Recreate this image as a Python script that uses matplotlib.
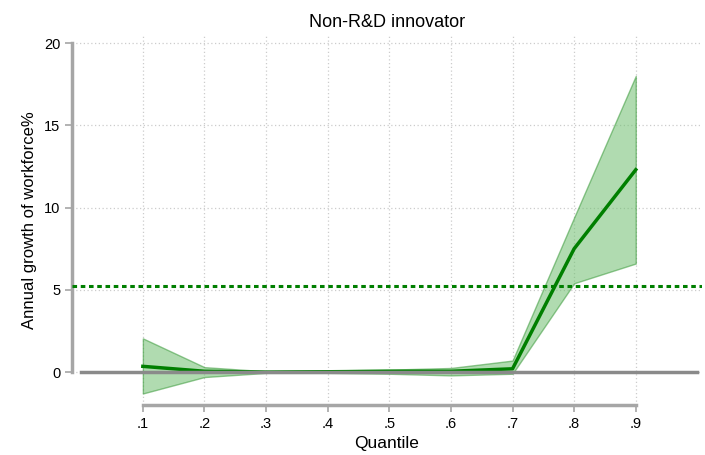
import matplotlib.pyplot as plt
import numpy as np

plt.rcParams['font.family'] = ['Liberation Sans', 'DejaVu Sans']

quantile = [0.1, 0.2, 0.3, 0.4, 0.5, 0.6, 0.7, 0.8, 0.9]
estimate = [0.35, 0.05, 0.0, 0.02, 0.05, 0.05, 0.2, 7.5, 12.3]
upper = [2.05, 0.3, 0.05, 0.1, 0.15, 0.25, 0.7, 9.4, 18.0]
lower = [-1.3, -0.3, -0.05, -0.05, -0.1, -0.2, -0.1, 5.4, 6.6]
ols_line = 5.25
xtick_labels = [".1", ".2", ".3", ".4", ".5", ".6", ".7", ".8", ".9"]
yticks = [0, 5, 10, 15, 20]

W, H = 705, 455
fig = plt.figure(figsize=(W / 100, H / 100), dpi=100)
ax = fig.add_axes([72 / W, (H - 405) / H, (702 - 72) / W, (405 - 35) / H])

green = "#007f00"

# dotted grid at the ticks
for x in quantile:
    ax.axvline(x, color="#cccccc", lw=0.9, ls=(0, (1, 2)), zorder=0)
for y in yticks:
    ax.axhline(y, color="#cccccc", lw=0.9, ls=(0, (1, 2)), zorder=0)

ax.fill_between(quantile, lower, upper, facecolor="#6fbf6f", alpha=0.55,
                edgecolor="#3a9a3a", lw=1, zorder=2)
ax.plot(quantile, estimate, color=green, lw=2.5, zorder=3)
ax.plot([0, 1], [0, 0], color="#8a8a8a", lw=2.5, zorder=4)
ax.axhline(ols_line, color=green, lw=2.2, ls=(0, (1.5, 1.2)), zorder=4)

ax.set_xlim(-0.015, 1.0075)
ax.set_ylim(-2.0, 20.49)
ax.set_xticks(quantile)
ax.set_xticklabels(xtick_labels)
ax.set_yticks(yticks)

for s in ["top", "right"]:
    ax.spines[s].set_visible(False)
for s in ["left", "bottom"]:
    ax.spines[s].set_color("#a6a6a6")
    ax.spines[s].set_linewidth(2.5)
ax.spines["left"].set_bounds(0, 20)
ax.spines["bottom"].set_bounds(0.1, 0.9)
ax.tick_params(colors="#a6a6a6", labelcolor="black", labelsize=10.5, length=5, width=1.2)

ax.set_xlabel("Quantile", fontsize=12.5, labelpad=4)
ax.set_ylabel("Annual growth of workforce%", fontsize=12, labelpad=5)
ax.set_title("Non-R&D innovator", fontsize=13, pad=6)

fig.savefig("out.png", dpi=100)
